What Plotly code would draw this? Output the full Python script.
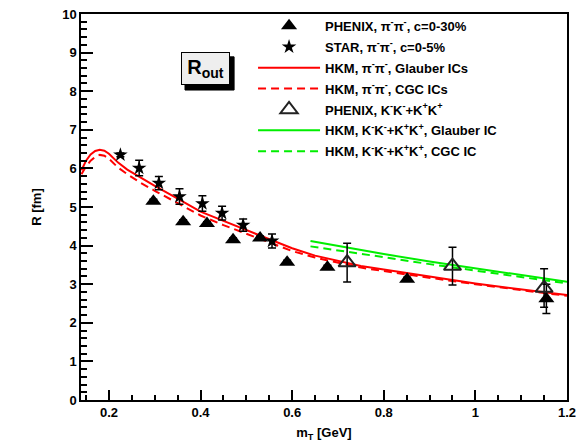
import plotly.graph_objects as go

# ---------------- data ----------------
phenix_pi_x = [0.297, 0.362, 0.414, 0.471, 0.530, 0.589, 0.677, 0.851, 1.155]
phenix_pi_y = [5.15, 4.62, 4.57, 4.15, 4.20, 3.57, 3.44, 3.13, 2.62]
phenix_pi_err = [0.05, 0.05, 0.05, 0.05, 0.05, 0.05, 0.05, 0.05, 0.38]

star_x = [0.225, 0.266, 0.309, 0.354, 0.404, 0.447, 0.493, 0.556]
star_y = [6.35, 6.01, 5.62, 5.27, 5.09, 4.84, 4.53, 4.12]
star_err = [0.05, 0.20, 0.17, 0.20, 0.20, 0.18, 0.16, 0.18]

phenix_k_x = [0.720, 0.950, 1.150]
phenix_k_y = [3.56, 3.47, 2.90]
phenix_k_err = [0.50, 0.49, 0.50]

hkm_pi_x = [0.14, 0.15, 0.16, 0.17, 0.18, 0.19, 0.20, 0.21, 0.22, 0.24, 0.27, 0.30,
            0.35, 0.40, 0.45, 0.50, 0.55, 0.60, 0.65, 0.70, 0.75, 0.80, 0.85, 0.90,
            0.95, 1.00, 1.05, 1.10, 1.15, 1.20]
hkm_pi_glauber = [5.95, 6.20, 6.36, 6.45, 6.48, 6.46, 6.38, 6.27, 6.15, 5.97, 5.75, 5.55,
                  5.22, 4.88, 4.64, 4.40, 4.15, 3.93, 3.74, 3.60, 3.47, 3.38, 3.29, 3.20,
                  3.10, 3.02, 2.94, 2.86, 2.79, 2.72]
hkm_pi_cgc = [5.85, 6.05, 6.20, 6.30, 6.35, 6.33, 6.25, 6.14, 6.02, 5.85, 5.62, 5.42,
              5.10, 4.78, 4.53, 4.30, 4.07, 3.86, 3.69, 3.55, 3.43, 3.34, 3.25, 3.17,
              3.08, 3.00, 2.92, 2.84, 2.77, 2.70]

hkm_k_x = [0.64, 0.70, 0.80, 0.90, 1.00, 1.10, 1.20]
hkm_k_glauber = [4.12, 3.99, 3.78, 3.59, 3.41, 3.23, 3.06]
hkm_k_cgc = [3.98, 3.88, 3.70, 3.52, 3.35, 3.18, 3.02]

x_tickvals = [0.2, 0.4, 0.6, 0.8, 1.0, 1.2]
x_ticktext = ["0.2", "0.4", "0.6", "0.8", "1", "1.2"]
y_tickvals = [0, 1, 2, 3, 4, 5, 6, 7, 8, 9, 10]

# ---------------- figure ----------------
FONT = "Liberation Sans, Arial, sans-serif"
RED = "#ff0000"
GREEN = "#00ee00"
DASH = "8px,5px"

fig = go.Figure()

fig.add_trace(go.Scatter(x=hkm_pi_x, y=hkm_pi_glauber, mode="lines",
                         line=dict(color=RED, width=2), legendgroup="g3",
                         name="HKM, π<sup>-</sup>π<sup>-</sup>, Glauber ICs", legendrank=3))
fig.add_trace(go.Scatter(x=hkm_pi_x, y=hkm_pi_cgc, mode="lines",
                         line=dict(color=RED, width=2, dash=DASH), legendgroup="g4",
                         name="HKM, π<sup>-</sup>π<sup>-</sup>, CGC ICs", legendrank=4))
fig.add_trace(go.Scatter(x=hkm_k_x, y=hkm_k_glauber, mode="lines",
                         line=dict(color=GREEN, width=2), legendgroup="g6",
                         name="HKM, K<sup>-</sup>K<sup>-</sup>+K<sup>+</sup>K<sup>+</sup>, Glauber IC",
                         legendrank=6))
fig.add_trace(go.Scatter(x=hkm_k_x, y=hkm_k_cgc, mode="lines",
                         line=dict(color=GREEN, width=2, dash=DASH), legendgroup="g7",
                         name="HKM, K<sup>-</sup>K<sup>-</sup>+K<sup>+</sup>K<sup>+</sup>, CGC IC",
                         legendrank=7))

err_style = dict(type="data", color="black", thickness=1.5, width=4)

fig.add_trace(go.Scatter(x=star_x, y=star_y, mode="markers",
                         marker=dict(symbol="star", size=11, color="black"),
                         error_y=dict(array=star_err, **err_style), legendgroup="g2",
                         name="STAR, π<sup>-</sup>π<sup>-</sup>, c=0-5%", legendrank=2))
fig.add_trace(go.Scatter(x=phenix_pi_x, y=phenix_pi_y, mode="markers",
                         marker=dict(symbol="triangle-up", size=14, color="black"),
                         error_y=dict(array=phenix_pi_err, **err_style), legendgroup="g1",
                         name="PHENIX, π<sup>-</sup>π<sup>-</sup>, c=0-30%", legendrank=1))
fig.add_trace(go.Scatter(x=phenix_k_x, y=phenix_k_y, mode="markers",
                         marker=dict(symbol="triangle-up-open", size=15, color="#222222",
                                     line=dict(width=2)),
                         error_y=dict(array=phenix_k_err, **err_style), legendgroup="g5",
                         name="PHENIX, K<sup>-</sup>K<sup>-</sup>+K<sup>+</sup>K<sup>+</sup>",
                         legendrank=5))

# R_out label box with drop shadow
fig.add_shape(type="rect", xref="paper", yref="paper",
              x0=0.214, x1=0.315, y0=0.803, y1=0.889,
              fillcolor="black", line=dict(color="black", width=1), layer="above")
fig.add_annotation(xref="paper", yref="paper", x=0.256, y=0.859,
                   xanchor="center", yanchor="middle",
                   text="R<sub>out</sub>", showarrow=False, width=47, height=31,
                   bgcolor="#eeeeee", borderwidth=1, bordercolor="black", borderpad=0,
                   font=dict(family=FONT, size=20, color="black"))

fig.update_layout(
    width=576, height=446,
    margin=dict(l=81, r=9, t=14, b=46, autoexpand=False),
    paper_bgcolor="white", plot_bgcolor="white",
    font=dict(family=FONT, size=13, color="black", weight="bold"),
    showlegend=True,
    legend=dict(x=0.354, y=1.008, xanchor="left", yanchor="top",
                bgcolor="rgba(0,0,0,0)", borderwidth=0, traceorder="grouped",
                font=dict(family=FONT, size=13, color="black", weight="bold"),
                itemwidth=62, tracegroupgap=1),
    xaxis=dict(range=[0.139, 1.2], showgrid=False, zeroline=False, automargin=False,
               showline=True, linecolor="black", linewidth=1.5, mirror=True,
               tickvals=x_tickvals, ticktext=x_ticktext, ticklabeloverflow="allow",
               ticks="inside", ticklen=10, tickwidth=1.5, tickcolor="black",
               minor=dict(dtick=0.05, tick0=0.2, ticks="inside", ticklen=5,
                          tickwidth=1.5, tickcolor="black", showgrid=False),
               tickfont=dict(family=FONT, size=13, weight="bold"),
               title=dict(text="m<sub>T</sub> [GeV]", standoff=9,
                          font=dict(family=FONT, size=13, weight="bold"))),
    yaxis=dict(range=[0, 10], showgrid=False, zeroline=False, automargin=False,
               showline=True, linecolor="black", linewidth=1.5, mirror=True,
               tickvals=y_tickvals, ticklabeloverflow="allow",
               ticks="inside", ticklen=12, tickwidth=1.5, tickcolor="black",
               minor=dict(dtick=0.2, tick0=0, ticks="inside", ticklen=6,
                          tickwidth=1.5, tickcolor="black", showgrid=False),
               tickfont=dict(family=FONT, size=13, weight="bold"),
               title=dict(text="R [fm]", standoff=18,
                          font=dict(family=FONT, size=13, weight="bold"))),
)

# remove the page's default 8px body margin so the figure sits at the window origin
fig.write_html("out.html", config={"displayModeBar": False},
               post_script="document.body.style.margin='0';")
